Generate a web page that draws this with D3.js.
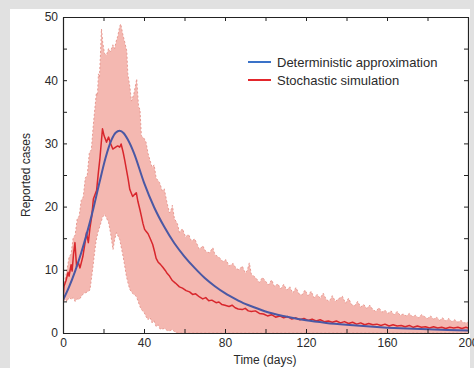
<!DOCTYPE html>
<html>
<head>
<meta charset="utf-8">
<script src="https://cdn.jsdelivr.net/npm/d3@7"></script>
<style>
  html, body { margin: 0; padding: 0; background: #e1e1e1; }
  svg { display: block; }
  text { font-family: "Liberation Sans", Arial, Helvetica, sans-serif; fill: #2a2a2a; }
</style>
</head>
<body>
<div id="chart"></div>
<script>
'use strict';

// deterministic approximation (smooth curve)
var detDays  = [0, 3, 6, 9, 12, 15, 18, 21, 24, 26, 28, 30, 32, 35, 40, 45, 50, 55, 60, 65, 70, 75, 80, 85, 90, 95, 100, 110, 120, 130, 140, 150, 160, 170, 180, 190, 200];
var detCases = [5.2, 7.3, 9.8, 12.7, 16, 19.7, 23.8, 27.7, 30.6, 31.7, 32, 31.6, 30.6, 28.5, 23.8, 19.9, 16.8, 14.2, 12.1, 10.3, 8.7, 7.4, 6.3, 5.4, 4.6, 4.0, 3.4, 2.6, 2.0, 1.6, 1.3, 1.05, 0.85, 0.7, 0.58, 0.48, 0.4];

// stochastic simulation (mean of runs)
var stoDays  = [0, 0.5, 1.5, 2.5, 3, 4, 4.5, 5.2, 5.9, 6.7, 7.5, 8.4, 9.8, 11, 11.6, 12.5, 13.3, 14.2, 15, 16.6, 17.5, 18.2, 19, 19.5, 20.3, 21.5, 22.5, 23.5, 24.6, 26, 27, 28, 28.7, 29.7, 30.5, 31.3, 32.2, 33, 34.4, 35.3, 36.2, 37, 38, 38.7, 39.5, 40.3, 41, 42, 43, 44.3, 45.2, 46, 47, 48, 49.3, 50.5, 51.5, 52.6, 54, 55.5, 57.5, 59, 60.8, 62.5, 64, 65.5, 67.4, 69, 70.5, 72, 73.5, 75.6, 77, 78.5, 80, 82, 83.5, 85, 86.5, 88.5, 90, 91.5, 93, 95, 97, 99, 101, 103, 105, 107, 109, 111, 113, 115, 117, 119, 121, 123, 125, 127, 129, 131, 133, 135, 137, 139, 141, 143, 145, 147, 149, 151, 153, 155, 157, 159, 161, 163, 165, 167, 169, 171, 173, 175, 177, 179, 181, 183, 185, 187, 189, 191, 193, 195, 197, 199, 200];
var stoCases = [5.5, 7.4, 8.3, 9.6, 9.0, 10.8, 9.8, 12.5, 14.3, 10.5, 11.2, 10.3, 12.1, 14.5, 15.9, 14.3, 16.6, 18.5, 21.2, 22.6, 25.5, 27.5, 30.5, 32.3, 31.2, 30.2, 31, 30, 29.1, 29.4, 29.6, 29.4, 29.9, 28.6, 27.3, 25.9, 24.3, 22.7, 21.6, 21.9, 22.2, 20.8, 19.5, 18.5, 17.3, 16.4, 16.1, 15.7, 15.0, 14.0, 12.9, 11.8, 11.2, 10.9, 10.4, 9.9, 9.4, 9.0, 8.3, 7.9, 7.3, 7.1, 6.7, 6.5, 6.1, 6.2, 5.7, 5.4, 5.6, 5.1, 5.2, 4.8, 4.9, 4.5, 4.4, 4.2, 4.4, 4.0, 3.8, 3.7, 3.9, 3.5, 3.4, 3.5, 3.1, 3.0, 2.7, 2.9, 2.5, 2.7, 2.4, 2.6, 2.2, 2.4, 2.1, 2.3, 2.0, 2.2, 1.9, 2.1, 1.8, 1.9, 1.7, 1.9, 1.6, 1.8, 1.5, 1.7, 1.4, 1.6, 1.3, 1.5, 1.3, 1.4, 1.2, 1.4, 1.1, 1.3, 1.1, 1.2, 1.0, 1.2, 0.9, 1.1, 0.9, 1.0, 0.8, 1.0, 0.8, 0.9, 0.7, 0.9, 0.8, 0.9, 0.7, 0.9, 0.8];

// spread of the simulations: upper edge
var hiDays  = [0, 1, 2, 3, 4, 5, 6, 7, 8, 9, 10, 11, 12, 13, 14, 15, 15.7, 16.5, 17, 17.5, 18, 18.5, 19, 19.6, 20.5, 21.5, 22.5, 23.5, 24.6, 25.5, 26.3, 27, 28, 28.5, 29.5, 30.5, 31.5, 32, 33, 33.8, 35, 36.4, 37.3, 38, 38.7, 40, 41, 42, 42.8, 44, 45, 46, 47.7, 49, 50, 51.5, 52.6, 53.5, 54, 55, 56.5, 57.5, 59, 60.5, 62, 63.5, 65, 67.4, 69, 70.5, 72.3, 74, 75, 77, 79, 80.5, 82, 84, 85.5, 87, 88.5, 90, 91, 92, 93, 95, 97, 98.5, 100, 101.5, 103, 104.5, 106, 107.5, 109, 110.5, 112, 113.5, 115, 116.5, 118, 119.5, 121, 122.5, 124, 125.5, 127, 128.5, 130, 131.5, 133, 134.5, 136, 138, 139.5, 141, 142.5, 144, 145.5, 147, 148.5, 150, 151.5, 153, 154.5, 156, 157.5, 159, 160.5, 162, 163.5, 165, 166.5, 168, 169.5, 171, 172.5, 174, 175.5, 177, 178.5, 180, 181.5, 183, 184.5, 186, 187.5, 189, 190.5, 192, 193.5, 195, 196.5, 198, 200];
var hiCases = [6, 8.5, 10, 12, 12.5, 15, 15.5, 18, 18.5, 21, 21.5, 24.5, 25, 28.5, 29, 33, 35.4, 38, 37.5, 41, 40.5, 44, 48.1, 46, 44.2, 44, 45, 44.5, 45.6, 45, 46.2, 46.9, 48.5, 48.9, 47.3, 46, 44.6, 41, 39, 36.7, 37.8, 40.2, 35.8, 35.4, 31.2, 30.8, 30.2, 28.4, 27.5, 26.2, 26.6, 24.5, 23.8, 22.5, 22.8, 20.4, 19, 19.6, 20.2, 18.1, 17.3, 15.9, 16.5, 15.2, 15.6, 14.5, 14.9, 13.2, 13.8, 12.9, 12.7, 13.5, 12.4, 12.0, 11.3, 11.6, 10.6, 11.0, 10.2, 10.0, 10.6, 9.5, 9.9, 11.1, 9.3, 8.8, 8.0, 8.8, 8.2, 7.6, 8.4, 7.3, 7.8, 7.0, 7.7, 6.8, 7.3, 6.3, 7.2, 6.2, 6.0, 6.8, 5.9, 6.6, 5.6, 6.1, 5.5, 6.3, 5.3, 5.0, 5.9, 5.0, 5.4, 5.8, 4.7, 5.5, 4.5, 4.3, 5.0, 4.1, 4.5, 3.9, 4.4, 3.7, 3.4, 4.0, 3.3, 3.6, 3.1, 3.5, 2.9, 3.4, 2.8, 3.0, 2.7, 3.1, 2.6, 2.8, 2.4, 2.9, 2.6, 2.3, 2.7, 2.2, 2.5, 2.0, 2.4, 1.9, 2.3, 1.8, 2.1, 1.7, 2.0, 1.6, 1.7];

// spread of the simulations: lower edge
var loDays  = [0, 1, 2, 3, 4, 5, 6, 7, 8, 10, 12, 13.3, 14, 14.8, 15.5, 16.3, 17.2, 18.5, 19.5, 20.5, 21.5, 22.5, 23.5, 24.7, 25.5, 26.4, 28, 29.7, 30.5, 31.3, 32.2, 33, 34, 35, 36.2, 37, 38, 38.7, 40, 41, 42, 43, 44, 45, 46, 47, 48, 50, 52, 54, 56, 200];
var loCases = [4.5, 5.5, 5, 5.7, 5.3, 5.6, 5, 5.4, 5.3, 6.2, 6.5, 6.8, 8.5, 10.5, 12.5, 14.5, 15.9, 17.2, 18.3, 18.8, 18.2, 17.5, 15.8, 13.2, 14.8, 15.9, 14.8, 12.1, 10.6, 9, 7.8, 6.9, 6.4, 6.1, 5.8, 5.1, 4.2, 3.7, 3.3, 2.6, 2.1, 2.5, 1.6, 1.9, 1.0, 1.3, 0.6, 0.7, 0.3, 0.5, 0, 0];

// axes
var xTicks  = [0, 20, 40, 60, 80, 100, 120, 140, 160, 180, 200];
var xLabels = [0, 40, 80, 120, 160, 200];
var yTicks  = [0, 5, 10, 15, 20, 25, 30, 35, 40, 45, 50];
var yLabels = [0, 10, 20, 30, 40, 50];

var seriesNames  = ['Deterministic approximation', 'Stochastic simulation'];
var legendColors = ['#3a72c8', '#e3262c'];

var width = 474
  , height = 368
  , margin = { top: 17, right: 6, bottom: 35, left: 63 }
  , innerW = width - margin.left - margin.right
  , innerH = height - margin.top - margin.bottom
;

var zip = function (xs, ys) {
  return xs.map(function (x, i) { return [x, ys[i]]; });
};

var svg = d3.select('#chart').append('svg')
    .attr('width', width)
    .attr('height', height);

// white card on the grey page
svg.append('rect')
    .attr('x', 10).attr('y', 9)
    .attr('width', 460).attr('height', height - 9)
    .attr('fill', '#ffffff');

var g = svg.append('g')
    .attr('transform', 'translate(' + margin.left + ',' + margin.top + ')');

var x = d3.scaleLinear().domain([0, 200]).range([0, innerW]);
var y = d3.scaleLinear().domain([0, 50]).range([innerH, 0]);

g.append('clipPath').attr('id', 'plot-clip')
  .append('rect').attr('width', innerW).attr('height', innerH);

var plot = g.append('g').attr('clip-path', 'url(#plot-clip)');

var line = d3.line()
    .x(function (d) { return x(d[0]); })
    .y(function (d) { return y(d[1]); });

// band: upper edge forwards, lower edge backwards
var hi = zip(hiDays, hiCases)
  , lo = zip(loDays, loCases)
;
plot.append('path')
    .attr('d', line(hi.concat(lo.slice().reverse())) + 'Z')
    .attr('fill', '#f4b8b1')
    .attr('stroke', 'none');

[hi, lo].forEach(function (edge) {
  plot.append('path')
      .attr('d', line(edge))
      .attr('fill', 'none')
      .attr('stroke', '#e89a92')
      .attr('stroke-width', 1)
      .attr('stroke-dasharray', '2,2');
});

plot.append('path')
    .attr('d', line(zip(stoDays, stoCases)))
    .attr('fill', 'none')
    .attr('stroke', '#d8262c')
    .attr('stroke-width', 1.5)
    .attr('stroke-linejoin', 'round');

plot.append('path')
    .attr('d', line.curve(d3.curveMonotoneX)(zip(detDays, detCases)))
    .attr('fill', 'none')
    .attr('stroke', '#4a58a4')
    .attr('stroke-width', 2);
line.curve(d3.curveLinear);

// axes, ticks point inwards on all four sides
var fmtX = function (d) { return xLabels.indexOf(d) > -1 ? d : ''; };
var fmtY = function (d) { return yLabels.indexOf(d) > -1 ? d : ''; };

var axes = [
  { ax: d3.axisBottom(x).tickValues(xTicks).tickFormat(fmtX), at: 'translate(0,' + innerH + ')' },
  { ax: d3.axisTop(x).tickValues(xTicks).tickFormat(''), at: 'translate(0,0)' },
  { ax: d3.axisLeft(y).tickValues(yTicks).tickFormat(fmtY), at: 'translate(0,0)' },
  { ax: d3.axisRight(y).tickValues(yTicks).tickFormat(''), at: 'translate(' + innerW + ',0)' }
];

axes.forEach(function (a) {
  var sel = g.append('g')
      .attr('transform', a.at)
      .call(a.ax.tickSizeInner(-4).tickSizeOuter(0).tickPadding(5));
  sel.select('.domain').attr('stroke', '#222').attr('stroke-width', 1.2);
  sel.selectAll('.tick line').attr('stroke', '#222');
  sel.selectAll('.tick text')
      .attr('font-size', 12)
      .attr('fill', '#2a2a2a')
      .style('font-family', '"Liberation Sans", Arial, sans-serif');
});

// axis titles
svg.append('text')
    .attr('x', 265).attr('y', 364)
    .attr('text-anchor', 'middle')
    .attr('font-size', 12)
    .text('Time (days)');

svg.append('text')
    .attr('transform', 'translate(30,' + (margin.top + innerH / 2) + ') rotate(-90)')
    .attr('text-anchor', 'middle')
    .attr('font-size', 12)
    .text('Reported cases');

// legend
var legend = svg.append('g').attr('transform', 'translate(248,62)');
seriesNames.forEach(function (name, i) {
  var row = legend.append('g').attr('transform', 'translate(0,' + (i * 18) + ')');
  row.append('line')
      .attr('x1', 0).attr('x2', 23)
      .attr('stroke', legendColors[i])
      .attr('stroke-width', 2);
  row.append('text')
      .attr('x', 29).attr('dy', '0.35em')
      .attr('font-size', 13)
      .text(name);
});
</script>
</body>
</html>
